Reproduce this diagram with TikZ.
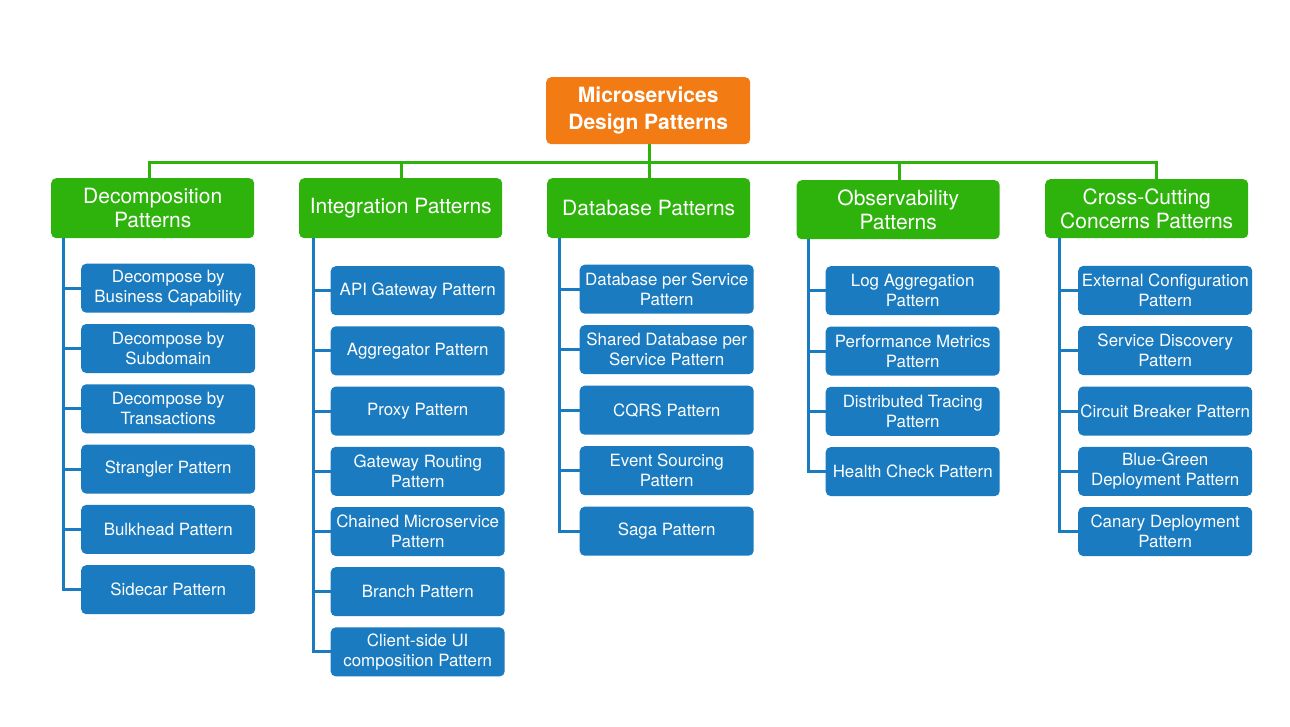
\documentclass[tikz,border=0pt]{standalone}
\usepackage{fontspec}
\setmainfont{TeX Gyre Heros}
\definecolor{rootor}{HTML}{F27B13}
\definecolor{catgr}{HTML}{2DB30B}
\definecolor{kidbl}{HTML}{1A7BC0}
\tikzset{
  rootbox/.style={fill=rootor, text=white, rounded corners=5pt, inner sep=0pt,
    minimum width=204pt, minimum height=67pt, anchor=north west, align=center,
    font=\fontsize{21pt}{27pt}\selectfont\bfseries},
  catbox/.style={fill=catgr, text=white, rounded corners=5pt, inner sep=0pt,
    minimum width=203pt, minimum height=60pt, anchor=north west, align=center,
    font=\fontsize{21pt}{24pt}\selectfont},
  kidbox/.style={fill=kidbl, text=white, rounded corners=5pt, inner sep=0pt,
    minimum width=174pt, minimum height=49pt, anchor=north west, align=center,
    font=\fontsize{16.9pt}{20pt}\selectfont},
  greenline/.style={draw=catgr, line width=3pt},
  railline/.style={draw=kidbl, line width=3pt},
}
\begin{document}
\begin{tikzpicture}[x=1pt,y=-1pt]
\useasboundingbox[fill=white] (0,0) rectangle (1290,727);

% root
\node[rootbox] (root) at (546,77) {Microservices\\Design Patterns};

% categories
\node[catbox] (cat1) at (51,178) {Decomposition\\Patterns};
\node[catbox] (cat2) at (299,178) {Integration Patterns};
\node[catbox] (cat3) at (547,178) {Database Patterns};
\node[catbox, minimum height=59pt] (cat4) at (796.5,180) {Observability\\Patterns};
\node[catbox, minimum height=59pt] (cat5) at (1045,179) {Cross-Cutting\\Concerns Patterns};

% bus
\coordinate (d1) at (149.5,162.5);
\coordinate (d2) at (401,162.5);
\coordinate (d3) at (649,162.5);
\coordinate (d4) at (899,162.5);
\coordinate (d5) at (1156,162.5);
\draw[greenline] (d1 |- cat1.north) -- (d1) -- (d5) -- (d5 |- cat5.north);
\draw[greenline] (d2) -- (d2 |- cat2.north);
\draw[greenline] (d4) -- (d4 |- cat4.north);
\draw[greenline] (root.south -| d3) -- (d3 |- cat3.north);

% column 1
\node[kidbox] (a1) at (81,263.5) {Decompose by\\Business Capability};
\node[kidbox] (a2) at (81,323.8) {Decompose by\\Subdomain};
\node[kidbox] (a3) at (81,384.1) {Decompose by\\Transactions};
\node[kidbox] (a4) at (81,444.4) {Strangler Pattern};
\node[kidbox] (a5) at (81,504.7) {Bulkhead Pattern};
\node[kidbox] (a6) at (81,565) {Sidecar Pattern};
\coordinate (r1) at (63,238);
\draw[railline] (r1) |- (a6.west);
\foreach \n in {a1,a2,a3,a4,a5} \draw[railline] (\n.west) -- (\n.west -| r1);

% column 2
\node[kidbox] (b1) at (330.5,266) {API Gateway Pattern};
\node[kidbox] (b2) at (330.5,326.2) {Aggregator Pattern};
\node[kidbox] (b3) at (330.5,386.4) {Proxy Pattern};
\node[kidbox] (b4) at (330.5,446.6) {Gateway Routing\\Pattern};
\node[kidbox] (b5) at (330.5,506.8) {Chained Microservice\\Pattern};
\node[kidbox] (b6) at (330.5,567) {Branch Pattern};
\node[kidbox] (b7) at (330.5,627.2) {Client-side UI\\composition Pattern};
\coordinate (r2) at (313,238);
\draw[railline] (r2) |- (b7.west);
\foreach \n in {b1,b2,b3,b4,b5,b6} \draw[railline] (\n.west) -- (\n.west -| r2);

% column 3
\node[kidbox] (c1) at (579.5,264.5) {Database per Service\\Pattern};
\node[kidbox] (c2) at (579.5,325) {Shared Database per\\Service Pattern};
\node[kidbox] (c3) at (579.5,385.5) {CQRS Pattern};
\node[kidbox] (c4) at (579.5,446) {Event Sourcing\\Pattern};
\node[kidbox] (c5) at (579.5,506.5) {Saga Pattern};
\coordinate (r3) at (559.5,238);
\draw[railline] (r3) |- (c5.west);
\foreach \n in {c1,c2,c3,c4} \draw[railline] (\n.west) -- (\n.west -| r3);

% column 4
\node[kidbox] (e1) at (825.5,266) {Log Aggregation\\Pattern};
\node[kidbox] (e2) at (825.5,326.3) {Performance Metrics\\Pattern};
\node[kidbox] (e3) at (825.5,386.6) {Distributed Tracing\\Pattern};
\node[kidbox] (e4) at (825.5,446.9) {Health Check Pattern};
\coordinate (r4) at (808,239);
\draw[railline] (r4) |- (e4.west);
\foreach \n in {e1,e2,e3} \draw[railline] (\n.west) -- (\n.west -| r4);

% column 5
\node[kidbox] (f1) at (1078,265.7) {External Configuration\\Pattern};
\node[kidbox] (f2) at (1078,326) {Service Discovery\\Pattern};
\node[kidbox] (f3) at (1078,386.3) {Circuit Breaker Pattern};
\node[kidbox] (f4) at (1078,446.6) {Blue-Green\\Deployment Pattern};
\node[kidbox] (f5) at (1078,506.9) {Canary Deployment\\Pattern};
\coordinate (r5) at (1059,238);
\draw[railline] (r5) |- (f5.west);
\foreach \n in {f1,f2,f3,f4} \draw[railline] (\n.west) -- (\n.west -| r5);
\end{tikzpicture}
\end{document}
